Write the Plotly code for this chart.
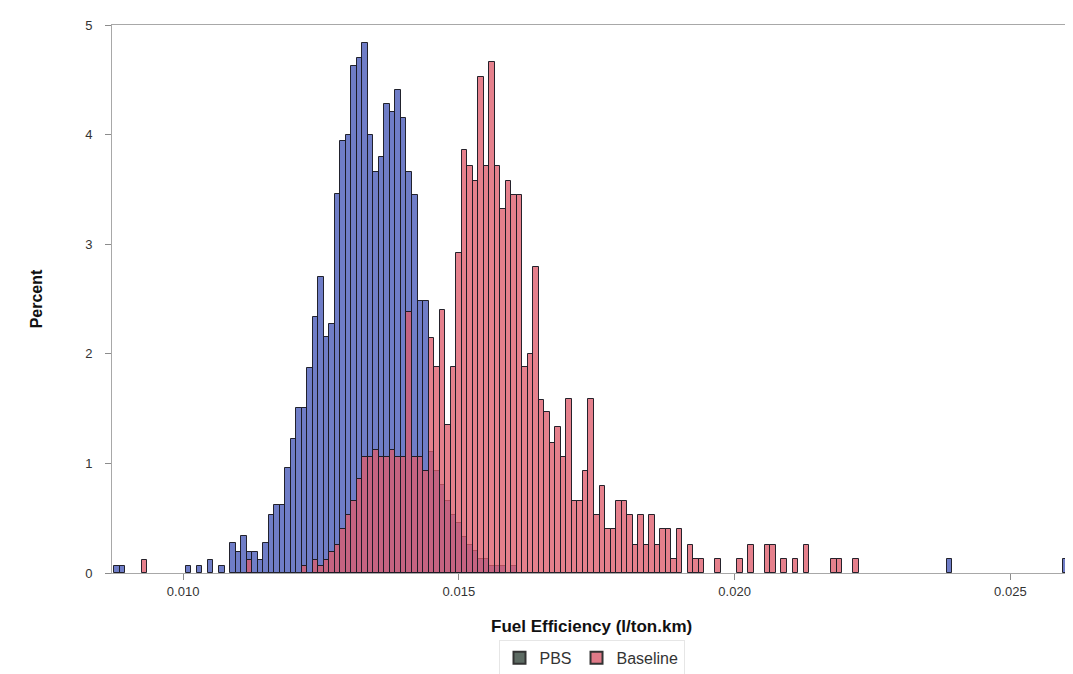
import plotly.graph_objects as go

# ---------------- data ----------------
first_bin = 0.0088          # centre of first bin
bin_width = 0.0001
# percent per bin, bins 0.0088 ... 0.0260 (173 bins)
pbs_percent = [
    0.06, 0.06, 0, 0, 0, 0, 0, 0, 0, 0,            # 0.0088-0.0097
    0, 0, 0, 0.06, 0, 0.06, 0, 0.12, 0, 0.06,       # 0.0098-0.0107
    0, 0.27, 0.19, 0.34, 0.19, 0.19, 0.12, 0.27, 0.53, 0.62,   # 0.0108-0.0117
    0.62, 0.96, 1.22, 1.51, 1.51, 1.87, 2.34, 2.70, 2.15, 2.27,  # 0.0118-0.0127
    3.46, 3.94, 4.00, 4.63, 4.70, 4.84, 4.00, 3.66, 3.80, 4.28,  # 0.0128-0.0137
    4.21, 4.41, 4.15, 3.66, 3.45, 2.48, 2.48, 1.10, 0.93, 0.80,  # 0.0138-0.0147
    0.66, 0.53, 0.46, 0.33, 0.26, 0.20, 0.13, 0.13, 0.06, 0.06,  # 0.0148-0.0157
    0.06, 0, 0.06, 0, 0, 0, 0, 0, 0, 0,             # 0.0158-0.0167
    0, 0, 0, 0, 0, 0, 0, 0, 0, 0,                   # 0.0168-0.0177
    0, 0, 0, 0, 0, 0, 0, 0, 0, 0,                   # 0.0178-0.0187
    0, 0, 0, 0, 0, 0, 0, 0, 0, 0,                   # 0.0188-0.0197
    0, 0, 0, 0, 0, 0, 0, 0, 0, 0,                   # 0.0198-0.0207
    0, 0, 0, 0, 0, 0, 0, 0, 0, 0,                   # 0.0208-0.0217
    0, 0, 0, 0, 0, 0, 0, 0, 0, 0,                   # 0.0218-0.0227
    0, 0, 0, 0, 0, 0, 0, 0, 0, 0,                   # 0.0228-0.0237
    0, 0.13, 0, 0, 0, 0, 0, 0, 0, 0,                # 0.0238-0.0247
    0, 0, 0, 0, 0, 0, 0, 0, 0, 0,                   # 0.0248-0.0257
    0, 0, 0.13,                                     # 0.0258-0.0260
]
baseline_percent = [
    0, 0, 0, 0, 0, 0.12, 0, 0, 0, 0,                # 0.0088-0.0097
    0, 0, 0, 0, 0, 0, 0, 0, 0, 0,                   # 0.0098-0.0107
    0, 0, 0, 0, 0.12, 0, 0, 0, 0, 0,                # 0.0108-0.0117
    0, 0, 0, 0, 0.06, 0, 0.12, 0.06, 0.12, 0.19,     # 0.0118-0.0127
    0.26, 0.40, 0.53, 0.66, 0.86, 1.06, 1.06, 1.12, 1.06, 1.06,  # 0.0128-0.0137
    1.12, 1.06, 1.06, 2.38, 1.06, 1.06, 0.93, 2.14, 1.88, 2.40,  # 0.0138-0.0147
    1.35, 1.88, 2.92, 3.86, 3.71, 3.58, 4.53, 3.71, 4.66, 3.71,  # 0.0148-0.0157
    3.32, 3.58, 3.45, 3.45, 1.88, 2.00, 2.79, 1.58, 1.47, 1.19,  # 0.0158-0.0167
    1.33, 1.06, 1.59, 0.66, 0.66, 0.93, 1.59, 0.53, 0.79, 0.40,  # 0.0168-0.0177
    0.40, 0.66, 0.66, 0.53, 0.26, 0.53, 0.26, 0.53, 0.26, 0.40,  # 0.0178-0.0187
    0.40, 0.13, 0.40, 0, 0.26, 0.13, 0.13, 0, 0, 0.13,  # 0.0188-0.0197
    0, 0, 0, 0.13, 0, 0.26, 0, 0, 0.26, 0.26,        # 0.0198-0.0207
    0, 0.13, 0, 0.13, 0, 0.26, 0, 0, 0, 0,           # 0.0208-0.0217
    0.13, 0.13, 0, 0, 0.13, 0, 0, 0, 0, 0,           # 0.0218-0.0227
    0, 0, 0, 0, 0, 0, 0, 0, 0, 0,                    # 0.0228-0.0237
    0, 0, 0, 0, 0, 0, 0, 0, 0, 0,                    # 0.0238-0.0247
    0, 0, 0, 0, 0, 0, 0, 0, 0, 0,                    # 0.0248-0.0257
    0, 0, 0,                                         # 0.0258-0.0260
]
series_names = ["PBS", "Baseline"]
x_ticks = [0.010, 0.015, 0.020, 0.025]
x_tick_labels = ["0.010", "0.015", "0.020", "0.025"]
y_ticks = [0, 1, 2, 3, 4, 5]
x_title = "Fuel Efficiency (l/ton.km)"
y_title = "Percent"

bin_centers = [round(first_bin + i * bin_width, 5) for i in range(len(pbs_percent))]

# ---------------- figure ----------------
fill_colors = ["rgba(50,70,175,0.70)", "rgba(222,92,108,0.78)"]
legend_swatch = ["#5d6b63", "#e07a88"]

fig = go.Figure()
for name, vals, col in zip(series_names, [pbs_percent, baseline_percent], fill_colors):
    xs = [c for c, v in zip(bin_centers, vals) if v > 0]
    ys = [v for v in vals if v > 0]
    fig.add_trace(go.Bar(
        x=xs, y=ys, width=bin_width, name=name,
        marker=dict(color=col, line=dict(color="rgba(25,25,35,0.95)", width=1)),
        showlegend=False,
    ))

# legend-only entries (square swatches)
for name, sw in zip(series_names, legend_swatch):
    fig.add_trace(go.Scatter(
        x=[None], y=[None], mode="markers", name=name,
        marker=dict(symbol="square", size=11, color=sw,
                    line=dict(color="#333333", width=1)),
    ))

fig.update_layout(
    width=1073, height=674,
    margin=dict(l=104, r=10, t=17, b=109, autoexpand=False),
    paper_bgcolor="white", plot_bgcolor="white",
    barmode="overlay", bargap=0,
    font=dict(family="Liberation Sans, Arial, sans-serif", color="#333333"),
    legend=dict(orientation="h", x=0.5, xanchor="center", y=-0.155, yanchor="middle",
                font=dict(size=16, color="#333333"),
                bordercolor="#e6e6e6", borderwidth=1, itemsizing="constant",
                tracegroupgap=0, itemwidth=30),
)
# x-axis title placed as a centred annotation below the tick labels
fig.add_annotation(
    text="<b>" + x_title + "</b>", xref="paper", yref="paper",
    x=0.5, y=-0.097, xanchor="center", yanchor="middle", showarrow=False,
    font=dict(size=17, color="#111111"),
)
fig.update_xaxes(
    range=[0.00871, 0.02610], tickvals=x_ticks, ticktext=x_tick_labels,
    ticks="outside", ticklen=6, tickcolor="#8c8c8c",
    tickfont=dict(size=13, color="#333333"), automargin=False,
    showline=True, linecolor="#a8a8a8", linewidth=1, mirror=True,
    showgrid=False, zeroline=False,
)
fig.update_yaxes(
    range=[0, 5], tickvals=y_ticks,
    ticks="outside", ticklen=6, tickcolor="#8c8c8c", ticklabelstandoff=10,
    tickfont=dict(size=13, color="#333333"), automargin=False,
    showline=True, linecolor="#a8a8a8", linewidth=1, mirror=True,
    showgrid=False, zeroline=False,
    title=dict(text="<b>" + y_title + "</b>", font=dict(size=16, color="#111111"), standoff=38),
)

fig.write_html("out.html")
